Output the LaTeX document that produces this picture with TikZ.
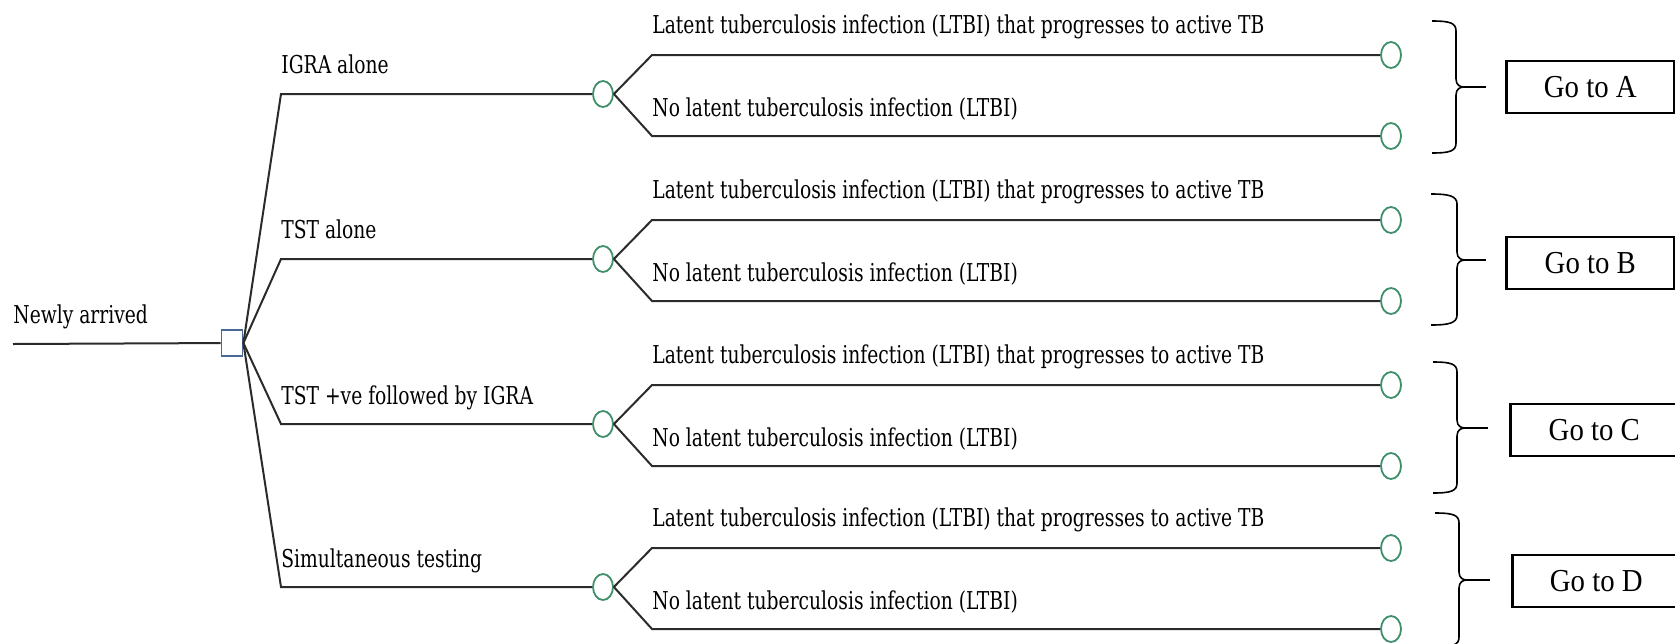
\documentclass[tikz,border=0pt]{standalone}
\usepackage{fontspec}
\usepackage{xcolor}
\usepackage{tikz}
\usetikzlibrary{shapes.geometric, positioning}
\newfontfamily\treefont[FakeStretch=0.76]{DejaVu Serif}
\newfontfamily\gofont[FakeStretch=0.9]{Liberation Serif}
\definecolor{treeline}{HTML}{2B2B2B}
\definecolor{decblue}{HTML}{4A6896}
\definecolor{chgreen}{HTML}{3F8F6B}
\tikzset{
    tree/.style={draw=treeline, line width=1pt},
    decision/.style={draw=decblue, line width=0.9pt, rectangle, fill=white, minimum width=10.5pt, minimum height=13pt, inner sep=0pt},
    chance/.style={draw=chgreen, line width=0.9pt, ellipse, fill=white, minimum width=10pt, minimum height=13pt, inner sep=0pt},
    label/.style={font=\treefont\fontsize{12.3}{15}\selectfont, anchor=base west, inner sep=0pt},
    gobox/.style={draw, line width=1.3pt, rectangle, font=\gofont\fontsize{16}{19}\selectfont, minimum width=84pt, minimum height=26pt, anchor=west, inner sep=0pt},
    curly/.style={draw, line width=0.8pt}
}
\begin{document}
\begin{tikzpicture}[x=0.5pt, y=-0.5pt]
    \useasboundingbox (0,0) rectangle (1675,643);

    \coordinate (start) at (13,344);
    \node (dec) [decision] at (232,343) {};
    \node (newly) [label] at (13,323) {Newly arrived};
    \draw [tree] (start) -- (dec);

    \coordinate (eigra) at (281,94);
    \coordinate (etst) at (281,259);
    \coordinate (eboth) at (281,424);
    \coordinate (esim) at (281,587);
    \node (cA) [chance] at (603,94) {};
    \node (cB) [chance] at (603,259) {};
    \node (cC) [chance] at (603,424) {};
    \node (cD) [chance] at (603,587) {};
    \node (igra) [label] at (281,73) {IGRA alone};
    \node (tst) [label] at (281,238) {TST alone};
    \node (both) [label] at (281,404) {TST +ve followed by IGRA};
    \node (sim) [label] at (281,567) {Simultaneous testing};
    \draw [tree] (dec.east) -- (eigra) -- (cA);
    \draw [tree] (dec.east) -- (etst) -- (cB);
    \draw [tree] (dec.east) -- (eboth) -- (cC);
    \draw [tree] (dec.east) -- (esim) -- (cD);

    \coordinate (uA) at (652,55);   \coordinate (lA) at (652,136);
    \coordinate (uB) at (652,220);  \coordinate (lB) at (652,301);
    \coordinate (uC) at (652,385);  \coordinate (lC) at (652,466);
    \coordinate (uD) at (652,548);  \coordinate (lD) at (652,629);
    \node (tA1) [chance] at (1391,55) {};  \node (tA2) [chance] at (1391,136) {};
    \node (tB1) [chance] at (1391,220) {}; \node (tB2) [chance] at (1391,301) {};
    \node (tC1) [chance] at (1391,385) {}; \node (tC2) [chance] at (1391,466) {};
    \node (tD1) [chance] at (1391,548) {}; \node (tD2) [chance] at (1391,629) {};
    \draw [tree] (cA.east) -- (uA) -- (tA1);  \draw [tree] (cA.east) -- (lA) -- (tA2);
    \draw [tree] (cB.east) -- (uB) -- (tB1);  \draw [tree] (cB.east) -- (lB) -- (tB2);
    \draw [tree] (cC.east) -- (uC) -- (tC1);  \draw [tree] (cC.east) -- (lC) -- (tC2);
    \draw [tree] (cD.east) -- (uD) -- (tD1);  \draw [tree] (cD.east) -- (lD) -- (tD2);
    \node (ltA) [label] at (652,33) {Latent tuberculosis infection (LTBI) that progresses to active TB};
    \node (noA) [label] at (652,116) {No latent tuberculosis infection (LTBI)};
    \node (ltB) [label] at (652,198) {Latent tuberculosis infection (LTBI) that progresses to active TB};
    \node (noB) [label] at (652,281) {No latent tuberculosis infection (LTBI)};
    \node (ltC) [label] at (652,363) {Latent tuberculosis infection (LTBI) that progresses to active TB};
    \node (noC) [label] at (652,446) {No latent tuberculosis infection (LTBI)};
    \node (ltD) [label] at (652,526) {Latent tuberculosis infection (LTBI) that progresses to active TB};
    \node (noD) [label] at (652,609) {No latent tuberculosis infection (LTBI)};

    \draw [curly] (1432,21) .. controls +(18,0) and +(0,-8) .. (1456,31) -- (1456,79)
        .. controls +(0,6) and +(-4,0) .. (1464,87) .. controls +(-4,0) and +(0,-6) .. (1456,95)
        -- (1456,143) .. controls +(0,8) and +(18,0) .. (1432,153);
    \draw [curly] (1464,87) -- (1486,87);
    \draw [curly] (1431,194) .. controls +(18,0) and +(0,-8) .. (1457,204) -- (1457,252)
        .. controls +(0,6) and +(-4,0) .. (1465,260) .. controls +(-4,0) and +(0,-6) .. (1457,268)
        -- (1457,315) .. controls +(0,8) and +(18,0) .. (1431,325);
    \draw [curly] (1465,260) -- (1486,260);
    \draw [curly] (1433,362) .. controls +(18,0) and +(0,-8) .. (1457,372) -- (1457,420)
        .. controls +(0,6) and +(-4,0) .. (1465,428) .. controls +(-4,0) and +(0,-6) .. (1457,436)
        -- (1457,483) .. controls +(0,8) and +(18,0) .. (1433,493);
    \draw [curly] (1465,428) -- (1488,428);
    \draw [curly] (1435,513) .. controls +(18,0) and +(0,-8) .. (1459,523) -- (1459,572)
        .. controls +(0,6) and +(-4,0) .. (1467,580) .. controls +(-4,0) and +(0,-6) .. (1459,588)
        -- (1459,637) .. controls +(0,8) and +(18,0) .. (1435,647);
    \draw [curly] (1467,580) -- (1490,580);

    \node (goA) [gobox] at (1505,87) {Go to A};
    \node (goB) [gobox] at (1505,263) {Go to B};
    \node (goC) [gobox] at (1509,430) {Go to C};
    \node (goD) [gobox] at (1511,581) {Go to D};
\end{tikzpicture}
\end{document}
